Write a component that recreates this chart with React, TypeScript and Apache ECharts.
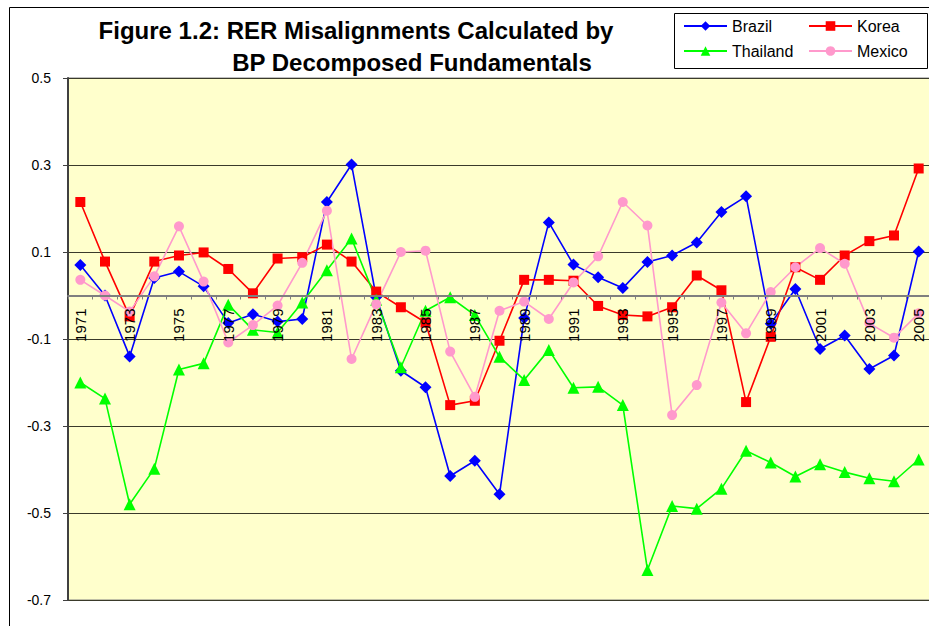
import React, { useEffect, useRef } from "react";
import * as echarts from "echarts";

const years = [
  "1971","1972","1973","1974","1975","1976","1977","1978","1979","1980",
  "1981","1982","1983","1984","1985","1986","1987","1988","1989","1990",
  "1991","1992","1993","1994","1995","1996","1997","1998","1999","2000",
  "2001","2002","2003","2004","2005",
];

const brazil = [
  0.07, 0.0, -0.14, 0.04, 0.055, 0.021, -0.063, -0.043, -0.06, -0.054,
  0.215, 0.301, -0.004, -0.173, -0.211, -0.415, -0.38, -0.457, -0.052, 0.168,
  0.071, 0.042, 0.017, 0.077, 0.092, 0.122, 0.192, 0.228, -0.065, 0.015,
  -0.123, -0.092, -0.169, -0.138, 0.101,
];

const korea = [
  0.215, 0.078, -0.048, 0.078, 0.092, 0.099, 0.061, 0.005, 0.085, 0.088,
  0.117, 0.078, 0.009, -0.027, -0.062, -0.252, -0.242, -0.104, 0.036, 0.036,
  0.034, -0.024, -0.045, -0.048, -0.027, 0.046, 0.012, -0.245, -0.095, 0.065,
  0.036, 0.092, 0.125, 0.138, 0.292,
];

const thailand = [
  -0.2, -0.237, -0.48, -0.398, -0.17, -0.156, -0.021, -0.079, -0.085, -0.016,
  0.058, 0.131, -0.01, -0.165, -0.035, -0.004, -0.045, -0.141, -0.194, -0.125,
  -0.212, -0.21, -0.252, -0.631, -0.484, -0.49, -0.444, -0.357, -0.384, -0.416,
  -0.388, -0.406, -0.42, -0.427, -0.377,
];

const mexico = [
  0.036, 0.0, -0.037, 0.044, 0.159, 0.032, -0.108, -0.068, -0.023, 0.075,
  0.195, -0.146, -0.02, 0.1, 0.103, -0.129, -0.233, -0.035, -0.014, -0.054,
  0.03, 0.09, 0.215, 0.161, -0.275, -0.206, -0.016, -0.087, 0.008, 0.065,
  0.109, 0.073, -0.064, -0.097, -0.041,
];

const titleLine1 = "Figure 1.2: RER Misalignments Calculated by";
const titleLine2 = "BP Decomposed Fundamentals";

const FONT = "'Liberation Sans', Arial, sans-serif";

const Y_MIN = -0.7;
const Y_MAX = 0.5;
const GRID_TOP = 78;
const GRID_H = 522;

export default function App() {
  const ref = useRef<HTMLDivElement>(null);

  useEffect(() => {
    if (!ref.current) return;
    const chart = echarts.init(ref.current, null, { renderer: "svg" });

    const zeroOffset = -(GRID_H * (0 - Y_MIN)) / (Y_MAX - Y_MIN);

    const mk = (name: string, data: number[], color: string, symbol: string, size: number) => ({
      name,
      type: "line",
      data,
      symbol,
      symbolSize: size,
      showSymbol: true,
      lineStyle: { color, width: 1.6 },
      itemStyle: { color, borderWidth: 0 },
      emphasis: { disabled: true },
    });

    const legendCommon = {
      orient: "vertical",
      top: 13,
      itemWidth: 43,
      itemHeight: 12,
      itemGap: 9,
      textStyle: { fontSize: 16, lineHeight: 16, color: "#000", fontFamily: FONT },
      selectedMode: false,
    };

    chart.setOption({
      animation: false,
      backgroundColor: "#ffffff",
      textStyle: { fontFamily: FONT },
      grid: {
        left: 68,
        top: GRID_TOP,
        width: 863,
        height: GRID_H,
        show: true,
        backgroundColor: "#FFFFCC",
        borderColor: "#808080",
        borderWidth: 1,
        outerBoundsMode: "none",
        containLabel: false,
      },
      xAxis: {
        type: "category",
        data: years,
        boundaryGap: true,
        position: "bottom",
        offset: zeroOffset,
        z: 10,
        axisLine: { onZero: false, lineStyle: { color: "#7f7f7f", width: 2 } },
        axisTick: { show: true, interval: 0, length: 4, lineStyle: { color: "#7f7f7f", width: 1 } },
        axisLabel: {
          interval: 1,
          rotate: 90,
          margin: 13,
          color: "#000",
          fontSize: 15,
          fontFamily: FONT,
        },
        splitLine: { show: false },
      },
      yAxis: {
        type: "value",
        min: Y_MIN,
        max: Y_MAX,
        interval: 0.2,
        axisLine: { show: true, onZero: false, lineStyle: { color: "#404040", width: 2 } },
        axisTick: { show: true, length: 5, lineStyle: { color: "#404040" } },
        axisLabel: {
          color: "#000",
          fontSize: 14,
          fontFamily: FONT,
          margin: 17,
          formatter: (v: number) => v.toFixed(1),
        },
        splitLine: { show: true, lineStyle: { color: "#3a3a2a", width: 1 } },
      },
      legend: [
        { ...legendCommon, data: ["Brazil", "Thailand"], left: 678 },
        { ...legendCommon, data: ["Korea", "Mexico"], left: 803 },
      ],
      graphic: [
        {
          type: "rect",
          shape: { x: 9.5, y: 7.5, width: 940, height: 640 },
          style: { fill: "none", stroke: "#000", lineWidth: 1 },
          silent: true,
          z: -1,
        },
        {
          type: "rect",
          shape: { x: 674.5, y: 13.5, width: 253, height: 55 },
          style: { fill: "#fff", stroke: "#000", lineWidth: 1 },
          silent: true,
          z: -1,
        },
        {
          type: "text",
          x: 356,
          y: 30,
          style: {
            text: titleLine1,
            fontSize: 24,
            fontWeight: "bold",
            fontFamily: FONT,
            fill: "#000",
            align: "center",
            verticalAlign: "middle",
          },
        },
        {
          type: "text",
          x: 412,
          y: 62,
          style: {
            text: titleLine2,
            fontSize: 24,
            fontWeight: "bold",
            fontFamily: FONT,
            fill: "#000",
            align: "center",
            verticalAlign: "middle",
          },
        },
      ],
      series: [
        mk("Brazil", brazil, "#0000FF", "diamond", 12),
        mk("Korea", korea, "#FF0000", "rect", 10),
        mk("Thailand", thailand, "#00FF00", "triangle", 12),
        mk("Mexico", mexico, "#FF99CC", "circle", 10),
      ],
    });

    return () => chart.dispose();
  }, []);

  return (
    <div
      ref={ref}
      style={{ position: "absolute", left: 0, top: 0, width: 929, height: 626 }}
    />
  );
}
